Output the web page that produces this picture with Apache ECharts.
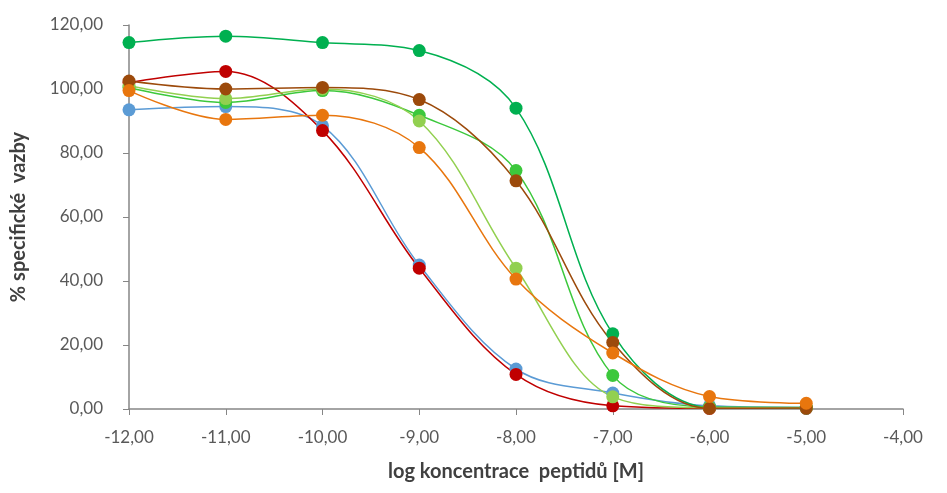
<!DOCTYPE html>
<html>
<head>
<meta charset="utf-8">
<script src="https://cdn.jsdelivr.net/npm/echarts@6/dist/echarts.min.js"></script>
<style>
html,body{margin:0;padding:0;background:#fff;}
#chart{width:947px;height:493px;}
</style>
</head>
<body>
<div id="chart"></div>
<script>
// log koncentrace (x)
var logConc = [-12, -11, -10, -9, -8, -7, -6, -5];
// % specifické vazby, one array per peptide
var blueVals = [93.5, 94.5, 88.5, 45, 12.5, 5, 1, 0.5];
var redVals = [102, 105.5, 87, 44, 10.8, 1, 0.2, 0.2];
var darkGreenVals = [114.5, 116.5, 114.5, 112, 94, 23.5, 0.5, 0.3];
var greenVals = [100.5, 95.8, 99.5, 91.8, 74.5, 10.5, 0.6, 0.5];
var lightGreenVals = [101, 97, 100, 90, 44, 3.8, 0.4, 0.4];
var brownVals = [102.5, 100, 100.5, 96.7, 71.3, 20.8, 0.2, 0.3];
var orangeVals = [99.5, 90.5, 91.8, 81.7, 40.6, 17.5, 3.9, 1.8];

var series = [
    {name:'blue', data:blueVals, color:'#5B9BD5'},
    {name:'red', data:redVals, color:'#C00000'},
    {name:'darkGreen', data:darkGreenVals, color:'#00B050'},
    {name:'green', data:greenVals, color:'#3CC83C'},
    {name:'lightGreen', data:lightGreenVals, color:'#92D050'},
    {name:'brown', data:brownVals, color:'#9C4A0B'},
    {name:'orange', data:orangeVals, color:'#E8760E'}
];

function comma(v){
    return v.toFixed(2).replace('.', ',');
}

var chart = echarts.init(document.getElementById('chart'));
chart.setOption({
    animation:false,
    backgroundColor:'#fff',
    grid:{left:129, right:44, top:25, bottom:84},
    xAxis:{
        type:'value', min:-12, max:-4, interval:1,
        name:'log koncentrace  peptidů [M]',
        nameLocation:'middle', nameGap:53,
        nameTextStyle:{fontFamily:'Lato', fontWeight:'bold', fontSize:20, color:'#404040'},
        axisLine:{show:true, onZero:false, lineStyle:{color:'#868686', width:1.5}},
        axisTick:{show:true, length:6, lineStyle:{color:'#868686'}},
        splitLine:{show:false},
        axisLabel:{formatter:comma, fontFamily:'Lato', fontSize:17, color:'#595959', margin:20}
    },
    yAxis:{
        type:'value', min:0, max:120, interval:20,
        name:'% specifické  vazby',
        nameLocation:'middle', nameGap:100, nameRotate:90,
        nameTextStyle:{fontFamily:'Lato', fontWeight:'bold', fontSize:20, color:'#404040'},
        axisLine:{show:true, lineStyle:{color:'#868686', width:1.5}},
        axisTick:{show:true, length:6, lineStyle:{color:'#868686'}},
        splitLine:{show:false},
        axisLabel:{formatter:comma, fontFamily:'Lato', fontSize:17, color:'#595959', margin:26}
    },
    series:series.map(function(s){
        return {
            name:s.name,
            type:'line',
            smooth:0.35,
            data:logConc.map(function(x, i){ return [x, s.data[i]]; }),
            symbol:'circle',
            symbolSize:13,
            itemStyle:{color:s.color},
            lineStyle:{color:s.color, width:1.5}
        };
    })
});
</script>
</body>
</html>
